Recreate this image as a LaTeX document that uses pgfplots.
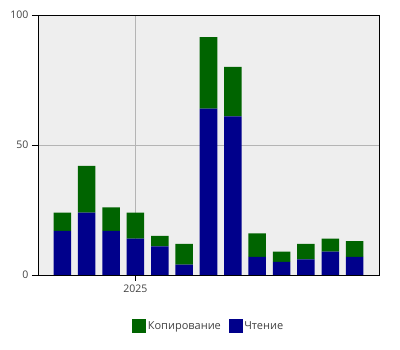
\documentclass[border=0pt]{standalone}
\usepackage{fontspec}
\setmainfont{Open Sans}
\usepackage{pgfplots}
\pgfplotsset{compat=1.18}
\definecolor{cgreen}{HTML}{006400}
\definecolor{cblue}{HTML}{00008B}
\definecolor{bgc}{HTML}{EEEEEE}
\definecolor{gridc}{HTML}{B4B4B4}
\definecolor{txt}{HTML}{404040}
\begin{document}
\begin{tikzpicture}[x=1pt,y=1pt]
\path[use as bounding box] (-38,-75) rectangle (362,275);
\begin{axis}[
  at={(0,0)}, anchor=south west,
  scale only axis, width=341pt, height=260pt,
  xmin=-1, xmax=13, ymin=0, ymax=100,
  ybar stacked, bar width=0.72,
  axis background/.style={fill=bgc},
  xtick={3}, xticklabels={2025},
  ytick={0,50,100},
  grid=major, major grid style={gridc, line width=0.8pt},
  tick align=outside, major tick length=6pt, tick pos=left,
  tick style={black, line width=0.8pt},
  axis line style={black, line width=0.8pt},
  ticklabel style={font=\fontsize{10.5}{12}\selectfont, text=txt},
  /pgf/number format/assume math mode=true,
  legend style={at={(0.501,-0.196)}, anchor=center, draw=none, fill=none,
    legend columns=2, font=\fontsize{11}{13}\selectfont, text=txt,
    /tikz/every even column/.append style={column sep=6pt}},
]
\addplot[fill=cblue, draw=none, forget plot] coordinates {
(0,17) (1,24) (2,17) (3,14) (4,11) (5,4) (6,64) (7,61) (8,7) (9,5) (10,6) (11,9) (12,7)};
\addplot[fill=cgreen, draw=none, forget plot] coordinates {
(0,7) (1,18) (2,9) (3,10) (4,4) (5,8) (6,27.5) (7,19) (8,9) (9,4) (10,6) (11,5) (12,6)};
\addlegendimage{legend image code/.code={\fill[cgreen] (0pt,-6.5pt) rectangle (13pt,6.5pt);}}
\addlegendentry{Копирование}
\addlegendimage{legend image code/.code={\fill[cblue] (0pt,-6.5pt) rectangle (13pt,6.5pt);}}
\addlegendentry{Чтение}
\end{axis}
\end{tikzpicture}
\end{document}
